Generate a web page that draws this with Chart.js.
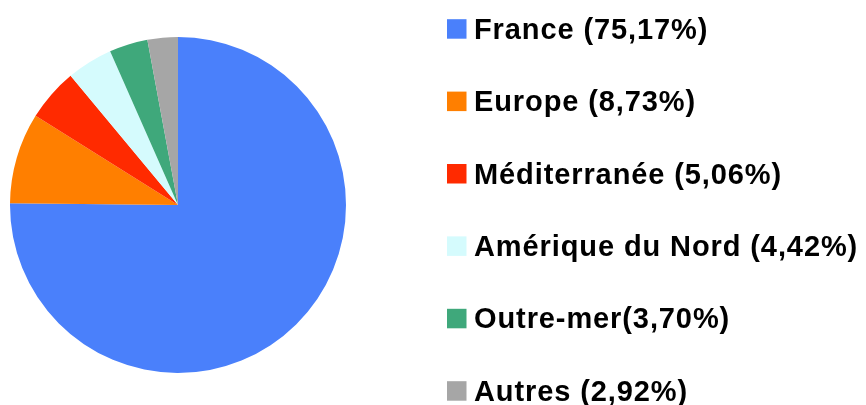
<!DOCTYPE html>
<html>
<head>
<meta charset="utf-8">
<script src="https://cdn.jsdelivr.net/npm/chart.js@4/dist/chart.umd.min.js"></script>
<style>
html,body{margin:0;padding:0;background:#fff;}
#wrap{position:relative;width:866px;height:405px;}
</style>
</head>
<body>
<div id="wrap"><canvas id="c" width="866" height="405"></canvas></div>
<script>
const categories = ["France", "Europe", "Méditerranée", "Amérique du Nord", "Outre-mer", "Autres"];
const values = [75.17, 8.73, 5.06, 4.42, 3.70, 2.92];
const legendLabels = ["France (75,17%)", "Europe (8,73%)", "Méditerranée (5,06%)", "Amérique du Nord (4,42%)", "Outre-mer(3,70%)", "Autres (2,92%)"];
const colors = ["#4a80fb", "#ff7f00", "#ff2a00", "#d5fbfd", "#3fa87b", "#a6a6a6"];

const legendPlugin = {
  id: 'sideLegend',
  afterDraw(chart) {
    const ctx = chart.ctx;
    ctx.save();
    ctx.font = 'bold 29px "Liberation Sans", Arial, sans-serif';
    ctx.letterSpacing = '0.9px';
    ctx.textBaseline = 'alphabetic';
    ctx.textAlign = 'left';
    legendLabels.forEach((t, i) => {
      const base = 38.7 + i * 72.4;
      ctx.fillStyle = colors[i];
      ctx.fillRect(447, base - 19.5, 19.5, 19.5);
      ctx.fillStyle = '#000';
      ctx.fillText(t, 474, base);
    });
    ctx.restore();
  }
};

new Chart(document.getElementById('c'), {
  type: 'pie',
  data: {
    labels: categories,
    datasets: [{ data: values, backgroundColor: colors, borderWidth: 0 }]
  },
  options: {
    responsive: false,
    animation: false,
    layout: { padding: { left: 10, top: 37, right: 520, bottom: 32 } },
    plugins: { legend: { display: false }, tooltip: { enabled: false } }
  },
  plugins: [legendPlugin]
});
</script>
</body>
</html>
